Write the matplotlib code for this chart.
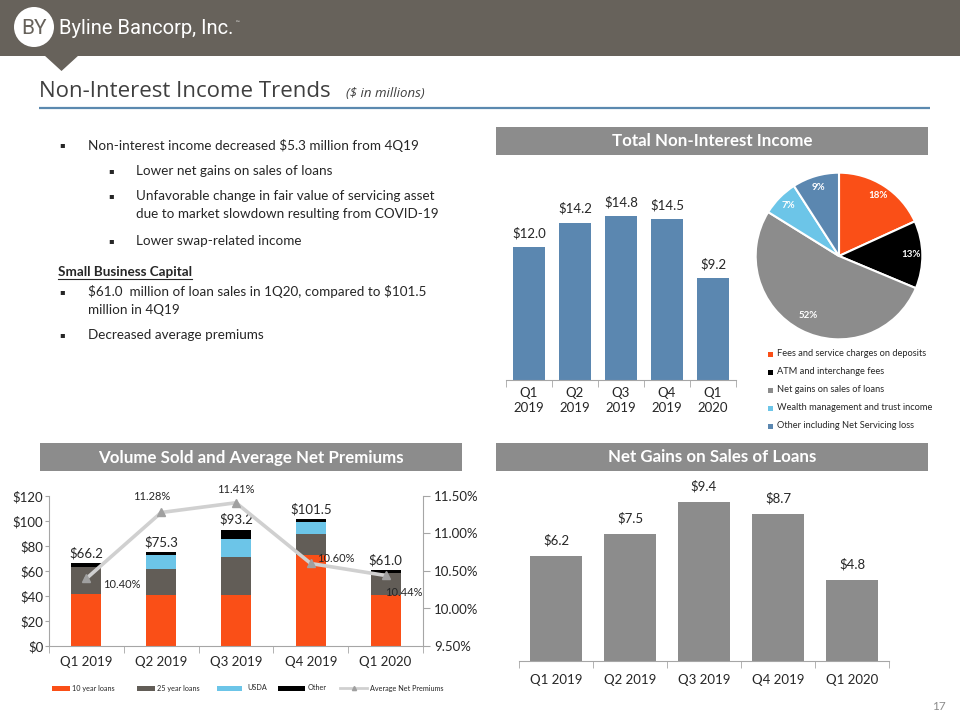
import matplotlib
matplotlib.use("Agg")
import matplotlib.pyplot as plt
from matplotlib.patches import Rectangle, Polygon, Circle
import numpy as np

plt.rcParams['font.family'] = ['Lato', 'DejaVu Sans']

# ---------------- data ----------------
quarters_2line = ["Q1\n2019", "Q2\n2019", "Q3\n2019", "Q4\n2019", "Q1\n2020"]
quarters = ["Q1 2019", "Q2 2019", "Q3 2019", "Q4 2019", "Q1 2020"]

total_nii = [12.0, 14.2, 14.8, 14.5, 9.2]

pie_labels = ["Fees and service charges on deposits", "ATM and interchange fees",
              "Net gains on sales of loans", "Wealth management and trust income",
              "Other including Net Servicing loss"]
pie_values = [18, 13, 52, 7, 9]

loans_10y = [42.0, 41.0, 40.5, 73.0, 41.0]
loans_25y = [21.0, 21.0, 31.0, 16.5, 17.5]
loans_usda = [0.0, 10.5, 14.0, 9.5, 0.0]
loans_other = [3.2, 2.8, 7.7, 2.5, 2.5]
volume_totals = [66.2, 75.3, 93.2, 101.5, 61.0]
avg_premiums = [10.40, 11.28, 11.41, 10.60, 10.44]

net_gains = [6.2, 7.5, 9.4, 8.7, 4.8]

# ---------------- colours ----------------
HEADER = "#67625B"
ORANGE = "#FA4F17"
DKGRAY = "#625D57"
LTBLUE = "#6CC5E8"
STEEL = "#5B87B0"
MIDGRAY = "#8C8C8C"
TXT = "#262626"

W, H = 960, 720
fig = plt.figure(figsize=(9.6, 7.2), dpi=100)

bg = fig.add_axes([0, 0, 1, 1])
bg.set_xlim(0, W)
bg.set_ylim(H, 0)
bg.axis('off')


def add_ax(l, t, r, b):
    ax = fig.add_axes([l / W, 1 - b / H, (r - l) / W, (b - t) / H])
    ax.set_facecolor('none')
    return ax


# ---------------- header ----------------
bg.add_patch(Rectangle((0, 0), W, 56, color=HEADER, lw=0))
bg.add_patch(Polygon([[44, 55], [79, 55], [61.5, 71]], closed=True, color=HEADER, lw=0))
bg.add_patch(Circle((34, 27), 20, color='white', lw=0))
bg.text(34, 28, "BY", ha='center', va='center', fontsize=15, color=HEADER,
        family=['Roboto', 'DejaVu Sans'])
bg.text(59, 29, "Byline Bancorp, Inc.", ha='left', va='center', fontsize=14.5,
        color='white', family=['Roboto', 'DejaVu Sans'])
bg.text(236, 22, "™", ha='left', va='center', fontsize=3.5, color='white')

# title
bg.text(39, 97, "Non-Interest Income Trends", ha='left', va='baseline',
        fontsize=16, color='#3F3F3F', family=['Open Sans', 'DejaVu Sans'])
bg.text(346, 97, "($ in millions)", ha='left', va='baseline', fontsize=9.5,
        style='italic', color='#3F3F3F', family=['Open Sans', 'DejaVu Sans'])
bg.plot([39, 930], [108, 108], color='#5B89AF', lw=1.6, solid_capstyle='butt')

# ---------------- bullet text ----------------
BFS = 9.7
def btext(xx, y, s, **kw):
    t = bg.text(xx, y, s, ha='left', va='center', fontsize=BFS, color=TXT, **kw)
    t.set_parse_math(False)
    return t

def bullet(xb, xt, y, s):
    bg.text(xb, y, "▪", ha='left', va='center', fontsize=6, color=TXT,
            family=['DejaVu Sans'])
    btext(xt, y, s)

bullet(59, 88, 145, "Non-interest income decreased $5.3 million from 4Q19")
bullet(108, 136, 171, "Lower net gains on sales of loans")
bullet(108, 136, 196, "Unfavorable change in fair value of servicing asset")
btext(136, 214, "due to market slowdown resulting from COVID-19")
bullet(108, 136, 241, "Lower swap-related income")
sbc = btext(58, 272, "Small Business Capital", fontweight='bold')
bullet(59, 88, 292, "$61.0  million of loan sales in 1Q20, compared to $101.5")
btext(88, 310, "million in 4Q19")
bullet(59, 88, 335, "Decreased average premiums")

fig.canvas.draw()
bb = sbc.get_window_extent(renderer=fig.canvas.get_renderer())
bg.plot([58, 58 + bb.width], [279, 279], color=TXT, lw=0.8)

# ---------------- section header bars ----------------
def section(l, t, r, b, s):
    bg.add_patch(Rectangle((l, t), r - l, b - t, color=MIDGRAY, lw=0))
    bg.text((l + r) / 2, (t + b) / 2 + 0.5, s, ha='center', va='center',
            fontsize=12.2, color='white', fontweight='bold')

section(496, 127, 928, 155, "Total Non-Interest Income")
section(40, 443, 462, 471, "Volume Sold and Average Net Premiums")
section(496, 443, 928, 471, "Net Gains on Sales of Loans")

x = np.arange(len(quarters))

# ---------------- chart 1: total non-interest income ----------------
ax1 = add_ax(506, 185, 736, 380)
ax1.bar(x, total_nii, width=0.7, color=STEEL)
ax1.set_xlim(-0.5, 4.5)
ax1.set_ylim(0, 195 / 11.08)
for i, v in enumerate(total_nii):
    ax1.text(i, v + 0.7, f"${v:.1f}", ha='center', va='bottom', fontsize=9.5, color=TXT)
for s in ['top', 'left', 'right']:
    ax1.spines[s].set_visible(False)
ax1.spines['bottom'].set_color('#A6A6A6')
ax1.set_yticks([])
ax1.set_xticks(x)
ax1.set_xticklabels(quarters_2line, fontsize=9.5, color=TXT, linespacing=1.3)
ax1.tick_params(axis='x', length=0, pad=5)
ax1.set_xticks(np.arange(-0.5, 5, 1), minor=True)
ax1.tick_params(axis='x', which='minor', length=5, color='#A6A6A6')

# ---------------- pie ----------------
axp = add_ax(754, 171, 924, 341)
pie_colors = [ORANGE, "#000000", MIDGRAY, LTBLUE, STEEL]
wedges, _ = axp.pie(pie_values, colors=pie_colors, startangle=90, counterclock=False,
                    radius=1, wedgeprops=dict(edgecolor='white', linewidth=1.5))
axp.set_xlim(-1.02, 1.02)
axp.set_ylim(-1.02, 1.02)
axp.set_aspect('equal')
tot = sum(pie_values)
cum = 0
for v, w in zip(pie_values, wedges):
    mid = 90 - (cum + v / 2) / tot * 360
    r = 0.8 if v > 40 else 0.86
    axp.text(r * np.cos(np.radians(mid)), r * np.sin(np.radians(mid)), f"{v}%",
             ha='center', va='center', fontsize=7, color='white', fontweight='bold')
    cum += v

leg_y = [354, 372, 390, 408, 426]
for lab, c, yy in zip(pie_labels, pie_colors, leg_y):
    bg.add_patch(Rectangle((768, yy - 2.5), 5, 5, color=c, lw=0))
    bg.text(777, yy, lab, ha='left', va='center', fontsize=6.7, color=TXT)

# ---------------- chart 3: volume sold ----------------
ax3 = add_ax(49, 496, 423, 646)
bw = 0.4
b1 = np.array(loans_10y)
b2 = b1 + np.array(loans_25y)
b3 = b2 + np.array(loans_usda)
ax3.bar(x, loans_10y, width=bw, color=ORANGE)
ax3.bar(x, loans_25y, width=bw, bottom=b1, color=DKGRAY)
ax3.bar(x, loans_usda, width=bw, bottom=b2, color=LTBLUE)
ax3.bar(x, loans_other, width=bw, bottom=b3, color='#000000')
ax3.set_xlim(-0.5, 4.5)
ax3.set_ylim(0, 120)
ax3.set_yticks(np.arange(0, 121, 20))
ax3.set_yticklabels([f"${v}" for v in range(0, 121, 20)], fontsize=9.5, color=TXT)
ax3.set_xticks(x)
ax3.set_xticklabels(quarters, fontsize=9.5, color=TXT)
ax3.tick_params(axis='x', length=0, pad=7)
ax3.set_xticks(np.arange(-0.5, 5, 1), minor=True)
ax3.tick_params(axis='x', which='minor', length=5, color='#A6A6A6')
ax3.tick_params(axis='y', length=3, color='#A6A6A6', pad=1)
for s in ['top', 'right']:
    ax3.spines[s].set_visible(False)
for s in ['left', 'bottom']:
    ax3.spines[s].set_color('#A6A6A6')
for i, v in enumerate(volume_totals):
    ax3.text(i, v + 3, f"${v:.1f}", ha='center', va='bottom', fontsize=9.5, color=TXT)

ax3r = ax3.twinx()
ax3r.set_facecolor('none')
ax3r.plot(x, avg_premiums, color='#D0D0D0', lw=2.6, marker='^', markersize=6,
          markerfacecolor='#A0A0A0', markeredgecolor='#A0A0A0', zorder=3)
ax3r.set_ylim(9.5, 11.5)
ax3r.set_yticks(np.arange(9.5, 11.51, 0.5))
ax3r.set_yticklabels([f"{v:.2f}%" for v in np.arange(9.5, 11.51, 0.5)], fontsize=9.5, color=TXT)
ax3r.tick_params(axis='y', length=5, color='#A6A6A6', pad=3)
for s in ['top', 'left', 'bottom']:
    ax3r.spines[s].set_visible(False)
ax3r.spines['right'].set_color('#A6A6A6')
pct_off = [(0.48, -0.08), (-0.13, 0.22), (0.0, 0.18), (0.33, 0.07), (0.25, -0.23)]
for i, (v, (dx, dy)) in enumerate(zip(avg_premiums, pct_off)):
    ax3r.text(i + dx, v + dy, f"{v:.2f}%", ha='center', va='center', fontsize=8, color=TXT)

# legend for chart 3
ly = 688
leg_items = [(52, 70, 72, "10 year loans", ORANGE), (137, 155, 157, "25 year loans", DKGRAY),
             (217, 242, 247, "USDA", LTBLUE), (278, 305, 308, "Other", '#000000')]
for x0, x1, xt, lab, c in leg_items:
    bg.add_patch(Rectangle((x0, ly - 2.5), x1 - x0, 5, color=c, lw=0))
    bg.text(xt, ly, lab, ha='left', va='center', fontsize=5.2, color=TXT)
bg.plot([340, 367], [ly, ly], color='#D0D0D0', lw=2)
bg.plot([353.5], [ly], marker='^', markersize=3, color='#A0A0A0')
bg.text(370, ly, "Average Net Premiums", ha='left', va='center', fontsize=5.2, color=TXT)

# ---------------- chart 4: net gains ----------------
ax4 = add_ax(519, 480, 889, 661)
ax4.bar(x, net_gains, width=0.7, color=MIDGRAY)
ax4.set_xlim(-0.5, 4.5)
ax4.set_ylim(0, 181 / 16.9)
for i, v in enumerate(net_gains):
    ax4.text(i, v + 0.55, f"${v:.1f}", ha='center', va='bottom', fontsize=9.5, color=TXT)
for s in ['top', 'left', 'right']:
    ax4.spines[s].set_visible(False)
ax4.spines['bottom'].set_color('#A6A6A6')
ax4.set_yticks([])
ax4.set_xticks(x)
ax4.set_xticklabels(quarters, fontsize=9.5, color=TXT)
ax4.tick_params(axis='x', length=0, pad=9)
ax4.set_xticks(np.arange(-0.5, 5, 1), minor=True)
ax4.tick_params(axis='x', which='minor', length=5, color='#A6A6A6')

bg.text(946, 706, "17", ha='right', va='center', fontsize=8.5, color='#8C8C8C')

fig.savefig("out.png", dpi=100)
